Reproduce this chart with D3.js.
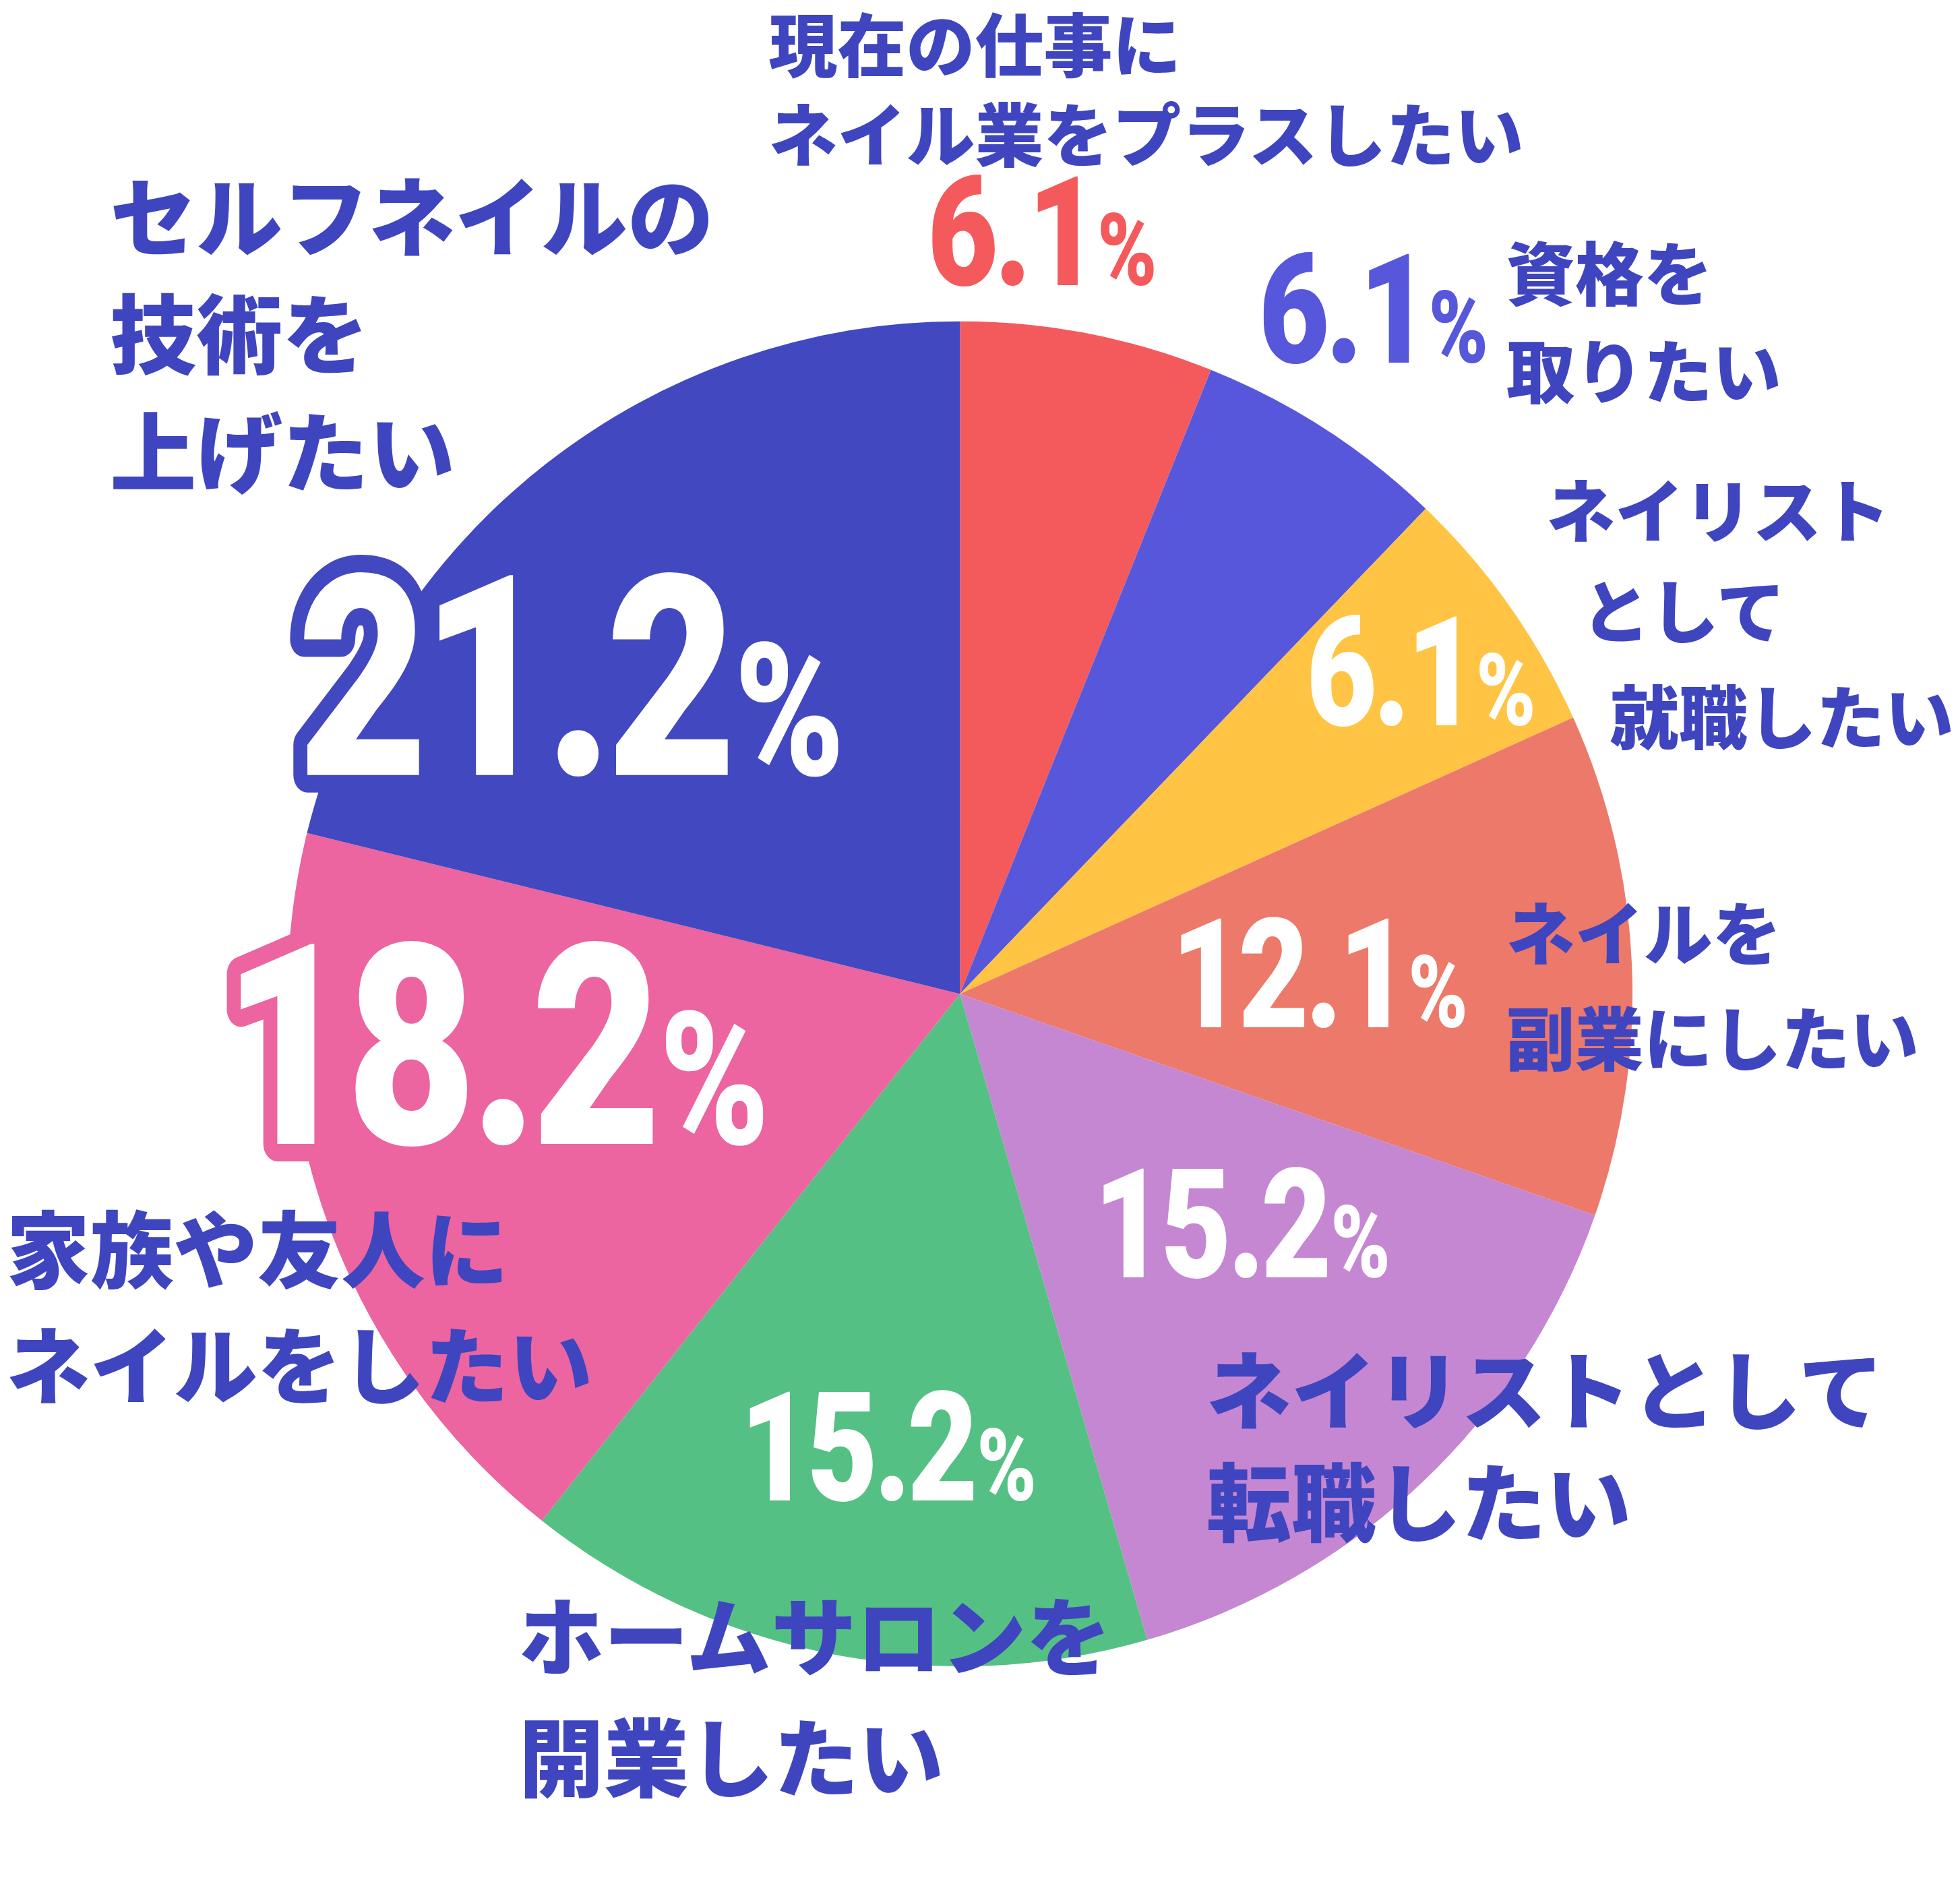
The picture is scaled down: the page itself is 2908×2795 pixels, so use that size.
<!DOCTYPE html>
<html><head><meta charset="utf-8">
<script src="https://cdn.jsdelivr.net/npm/d3@7"></script>
<style>body{margin:0;background:#fff}</style></head>
<body><svg id="c" width="2908" height="2795"></svg>
<script>
// slices clockwise from 12 o'clock
const categories = ["現在の仕事にネイル業をプラスしたい","資格を取りたい","ネイリストとして就職したい","ネイルを副業にしたい","ネイリストとして転職したい","ホームサロンを開業したい","家族や友人にネイルをしたい","セルフネイルの技術を上げたい"];
const values = [6.1, 6.1, 6.1, 12.1, 15.2, 15.2, 18.2, 21.2];
const colors = ["#F45A5C","#5757DB","#FFC443","#EC796A","#C587D2","#55C083","#EC64A0","#4248C0"];

const S = 2908 / 1568; // layout measured at 1568 wide
const svg = d3.select("#c");
const ink = "#3F45BF";
const cx = 768 * S, cy = 795 * S, r = 538 * S;

const pie = d3.pie().sort(null).value(d => d);
const arc = d3.arc().innerRadius(0).outerRadius(r);
svg.append("g").attr("transform", `translate(${cx},${cy})`)
  .selectAll("path").data(pie(values)).join("path")
  .attr("d", arc).attr("fill", (d, i) => colors[i]);

// category labels: [index, lines, x, first baseline, line gap, font size] (display units)
const labels = [
  [0, ["現在の仕事に","ネイル業をプラスしたい"], 615, 57, 72, 55],
  [1, ["資格を","取りたい"], 1205, 240, 78, 55],
  [2, ["ネイリスト"], 1237, 430, 0, 55],
  [2, ["として"], 1265, 510, 0, 55],
  [2, ["就職したい"], 1288, 595, 0, 55],
  [3, ["ネイルを","副業にしたい"], 1205, 768, 84, 55],
  [4, ["ネイリストとして","転職したい"], 965, 1138, 90, 68],
  [5, ["ホームサロンを","開業したい"], 415, 1335, 97, 68],
  [6, ["家族や友人に","ネイルをしたい"], 5, 1025, 93, 67],
  [7, ["セルフネイルの","技術を","上げたい"], 88, 200, 94, 69]
];
labels.forEach(([i, lines, x, y, gap, fs]) => {
  const t = svg.append("text").attr("fill", ink)
    .attr("font-family", "'Noto Sans CJK JP'").attr("font-weight", 900)
    .attr("font-size", fs * S);
  lines.forEach((l, k) => t.append("tspan").attr("x", x * S).attr("y", (y + k * gap) * S).text(l));
});

// value labels: [index, x, baseline, size, fill, stroke]
const pcts = [
  [0, 742, 228, 122, "#F45A5C", null],
  [1, 1007, 290, 122, "#5757DB", null],
  [2, 1045, 580, 122, "#fff", null],
  [3, 937, 822, 122, "#fff", null],
  [4, 875, 1022, 122, "#fff", null],
  [5, 592, 1200, 122, "#fff", null],
  [6, 178, 915, 225, "#fff", "#EC64A0"],
  [7, 238, 620, 225, "#fff", "#4248C0"]
];
pcts.forEach(([i, x, y, fs, fill, stroke]) => {
  const g = svg.append("g").attr("transform", `translate(${x * S},${y * S}) scale(0.8,1)`);
  const t = g.append("text").attr("fill", fill)
    .attr("font-family", "Roboto").attr("font-weight", 900)
    .attr("font-size", fs * S).attr("letter-spacing", -fs * S * 0.03);
  if (stroke) t.attr("stroke", stroke).attr("stroke-width", 28 * S)
    .attr("stroke-linejoin", "round").attr("paint-order", "stroke");
  t.append("tspan").text(values[i].toFixed(1));
  t.append("tspan").attr("font-size", fs * S * 0.66).attr("dx", fs * S * 0.02).text("%");
});
</script></body></html>
